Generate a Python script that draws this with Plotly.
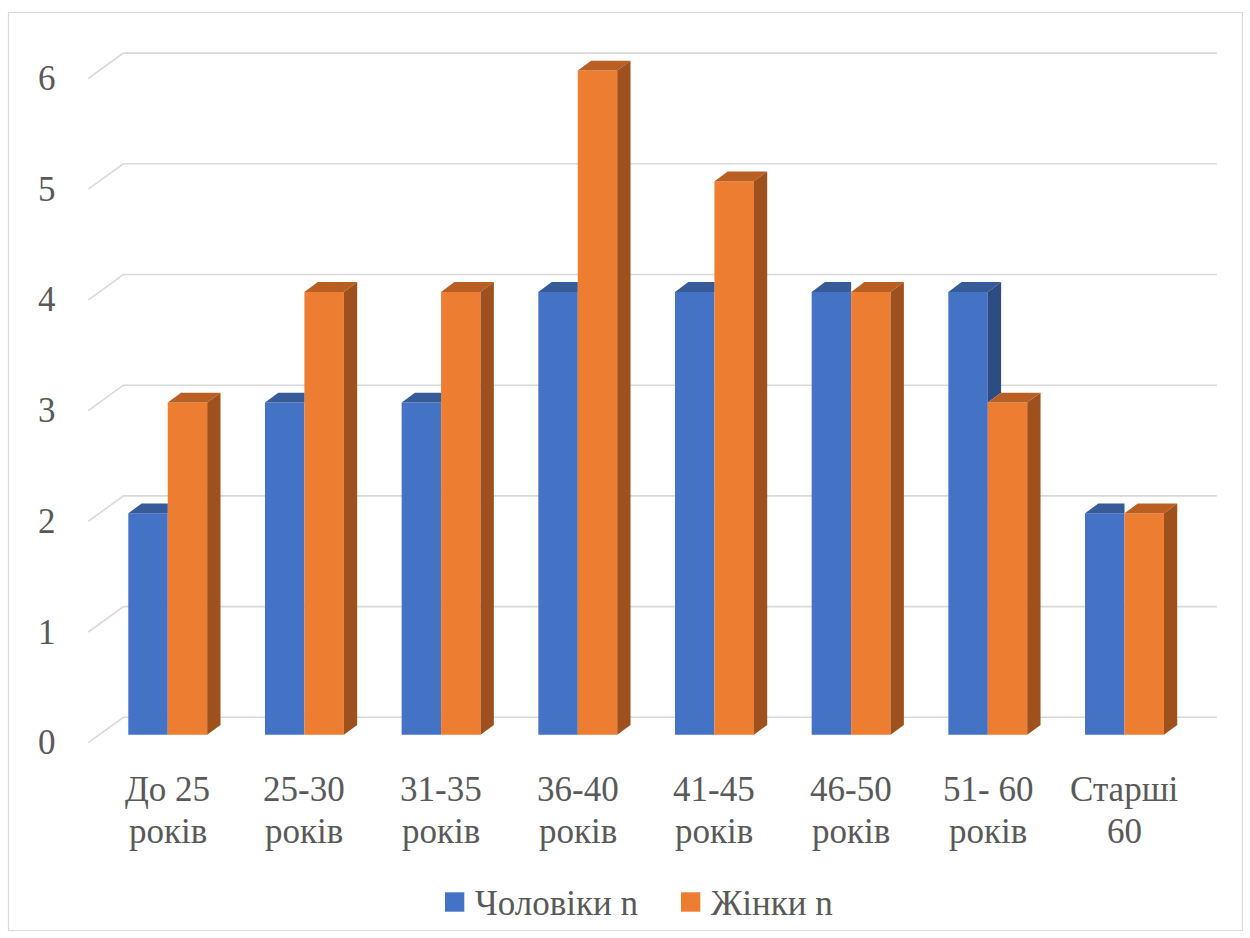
import plotly.graph_objects as go

# ---------------- data ----------------
categories = ["До 25 років", "25-30 років", "31-35 років", "36-40 років",
              "41-45 років", "46-50 років", "51- 60 років", "Старші 60"]
men = [2, 3, 3, 4, 4, 4, 4, 2]
women = [3, 4, 4, 6, 5, 4, 3, 2]
series_names = ["Чоловіки n", "Жінки n"]
y_ticks = [0, 1, 2, 3, 4, 5, 6]

# ---------------- style ----------------
W, H = 1250, 938
BLUE, BLUE_TOP, BLUE_SIDE = "#4472C4", "#375A98", "#2E4C84"
ORANGE, ORANGE_TOP, ORANGE_SIDE = "#ED7D31", "#B95F23", "#9E501D"
GRID = "#D9D9D9"
TXT = "#595959"
FONT = "Liberation Serif, Tinos, Times New Roman, DejaVu Serif, serif"

# pixel geometry: category i centre at 167.75 + 136.675*i ; value 0 at 734.7, 110.7 px/unit
XU = 136.675
YU = 110.7
XC0 = 167.75
YB0 = 734.7
X_RANGE = [-0.6, 7.8]
Y_RANGE = [-1.5, 6.5]
X0_PX = XC0 + X_RANGE[0] * XU
X1_PX = XC0 + X_RANGE[1] * XU
Y0_PX = YB0 - Y_RANGE[0] * YU
Y1_PX = YB0 - Y_RANGE[1] * YU

BAR_W = 39.45 / XU                    # one bar width in x units
GROUP = 2 * BAR_W
DX, DY = 13.3 / XU, 9.8 / YU          # bar depth projection
WBX, WBY = 24.0 / XU, 17.4 / YU       # back wall offset
WFX, WFY = -11.1 / XU, -8.0 / YU      # front edge offset
XL, XR = -0.5, 7.5                    # wall extent in category units

xs = list(range(len(categories)))

fig = go.Figure()
fig.add_trace(go.Bar(x=xs, y=men, name=series_names[0], marker_color=BLUE,
                     marker_line_width=0, showlegend=False))
fig.add_trace(go.Bar(x=xs, y=women, name=series_names[1], marker_color=ORANGE,
                     marker_line_width=0, showlegend=False))

shapes = []

def poly(pts, color, layer="above"):
    d = "M " + " L ".join(f"{x:.5f},{y:.5f}" for x, y in pts) + " Z"
    return dict(type="path", path=d, xref="x", yref="y", fillcolor=color,
                line=dict(width=0), layer=layer)

# gridlines (back wall + side wall)
for v in y_ticks:
    d = (f"M {XL + WFX:.5f},{v + WFY:.5f} L {XL + WBX:.5f},{v + WBY:.5f} "
         f"L {XR + WBX:.5f},{v + WBY:.5f}")
    shapes.append(dict(type="path", path=d, xref="x", yref="y",
                       line=dict(color=GRID, width=1.6), layer="below"))

# 3D faces of bars
for i, (b, o) in enumerate(zip(men, women)):
    xl = i - BAR_W
    xm = i
    xr = i + BAR_W
    if o >= b:
        shapes.append(poly([(xl, b), (xm, b), (xm, b + DY), (xl + DX, b + DY)], BLUE_TOP))
    else:
        shapes.append(poly([(xl, b), (xm, b), (xm + DX, b + DY), (xl + DX, b + DY)], BLUE_TOP))
        shapes.append(poly([(xm, o), (xm, b), (xm + DX, b + DY), (xm + DX, o + DY)], BLUE_SIDE))
    shapes.append(poly([(xm, o), (xr, o), (xr + DX, o + DY), (xm + DX, o + DY)], ORANGE_TOP))
    shapes.append(poly([(xr, 0), (xr, o), (xr + DX, o + DY), (xr + DX, 0 + DY)], ORANGE_SIDE))

# chart border
shapes.append(dict(type="rect", xref="paper", yref="paper",
                   x0=8.5 / W, x1=1242.5 / W, y0=1 - 930.5 / H, y1=1 - 12.5 / H,
                   line=dict(color=GRID, width=1.2), fillcolor="rgba(0,0,0,0)", layer="below"))

# legend (squares + texts)
leg = [(445, BLUE, 473.3, series_names[0]), (681, ORANGE, 709.3, series_names[1])]
annotations = []
for sx, col, tx, name in leg:
    shapes.append(dict(type="rect", xref="paper", yref="paper",
                       x0=sx / W, x1=(sx + 19.3) / W, y0=1 - 911.7 / H, y1=1 - 892.3 / H,
                       fillcolor=col, line=dict(width=0)))
    annotations.append(dict(x=tx / W, y=1 - 903.5 / H, xref="paper", yref="paper",
                            text=name, showarrow=False, xanchor="left", yanchor="middle",
                            font=dict(family=FONT, size=35, color=TXT)))

# y tick labels
for v in y_ticks:
    annotations.append(dict(x=57.5 / W, y=v + WFY, xref="paper", yref="y",
                            text=str(v), showarrow=False, xanchor="right", yanchor="middle",
                            font=dict(family=FONT, size=35, color=TXT)))

# category labels (two lines)
for i, c in enumerate(categories):
    parts = c.rsplit(" ", 1)
    for part, ypx in zip(parts, [789.5, 831.0]):
        annotations.append(dict(x=i, y=1 - ypx / H, xref="x", yref="paper",
                                text=part, showarrow=False, xanchor="center",
                                yanchor="middle",
                                font=dict(family=FONT, size=35, color=TXT)))

fig.update_layout(
    width=W, height=H, autosize=False,
    margin=dict(l=0, r=0, t=0, b=0),
    font=dict(family=FONT, color=TXT),
    paper_bgcolor="white", plot_bgcolor="rgba(0,0,0,0)",
    barmode="group", bargap=1 - GROUP, bargroupgap=0,
    showlegend=False,
    shapes=shapes, annotations=annotations,
    xaxis=dict(domain=[X0_PX / W, X1_PX / W], range=X_RANGE,
               showgrid=False, zeroline=False, showticklabels=False,
               showline=False, ticks=""),
    yaxis=dict(domain=[1 - Y0_PX / H, 1 - Y1_PX / H], range=Y_RANGE,
               showgrid=False, zeroline=False, showticklabels=False,
               showline=False, ticks=""),
)

fig.write_html("out.html")
